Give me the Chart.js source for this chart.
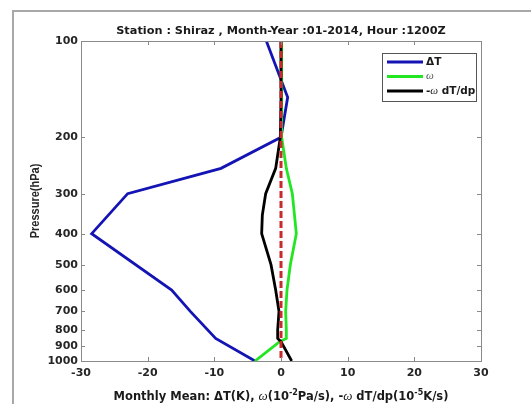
<!DOCTYPE html>
<html>
<head>
<meta charset="utf-8">
<script src="https://cdn.jsdelivr.net/npm/chart.js@4.4.1/dist/chart.umd.min.js"></script>
<style>
  html, body { margin: 0; padding: 0; background: #fff; overflow: hidden; }
</style>
</head>
<body>
<canvas id="profile" width="531" height="404"></canvas>
<script>
// Pressure levels (hPa) shared by the profiles; null = no vertex at that level
const levels = [100, 150, 200, 250, 300, 350, 400, 500, 600, 700, 800, 850, 870, 925, 1000];
const deltaT = [-2.2, 1.0, 0.0, -9.0, -23.0, null, -28.4, null, -16.4, -13.6, null, -9.8, null, null, -3.9];
const omega = [0.0, 0.1, 0.1, 0.8, 1.7, null, 2.3, 1.4, 0.9, 0.7, 0.8, 0.8, -0.2, null, -3.9];
const advection = [0.0, 0.0, -0.1, -0.8, -2.3, -2.8, -2.9, -1.5, -0.8, -0.3, -0.5, -0.5, 0.0, null, 1.6];

// reference line at zero
const zeroValues = [0, 0];
const zeroLevels = [100, 1000];

const xTicks = [-30, -20, -10, 0, 10, 20, 30];
const yTicks = [100, 200, 300, 400, 500, 600, 700, 800, 900, 1000];

const titleText = 'Station : Shiraz , Month-Year :01-2014, Hour :1200Z';
const yTitle = 'Pressure(hPa)';

const BOLD = '"DejaVu Sans", sans-serif';
const TXT = '#262626';

function toPoints(values, p) {
  return values
    .map((v, i) => ({ x: v, y: p[i] }))
    .filter(d => d.x !== null);
}

// draw a run of mixed-font segments centred on cx
function drawRuns(ctx, runs, cx, cy) {
  const widths = runs.map(r => { ctx.font = r.font; return ctx.measureText(r.t).width; });
  let x = cx - widths.reduce((s, w) => s + w, 0) / 2;
  runs.forEach((r, i) => {
    ctx.font = r.font;
    ctx.fillText(r.t, x, cy + (r.dy || 0));
    x += widths[i];
  });
}

const sansB = s => `bold ${s}px ${BOLD}`;
const greek = s => `italic ${s}px "Liberation Serif", serif`;

const texts = {
  id: 'texts',
  beforeDraw(chart) {
    const { ctx } = chart;
    ctx.save();
    ctx.fillStyle = '#fff';
    ctx.fillRect(0, 0, chart.width, chart.height);
    ctx.strokeStyle = '#a8a8a8';
    ctx.lineWidth = 2;
    ctx.strokeRect(13, 11, 700, 600);
    ctx.restore();
  },
  afterDraw(chart) {
    const { ctx, chartArea: a } = chart;
    const cx = (a.left + a.right) / 2;
    ctx.save();
    ctx.fillStyle = '#1a1a1a';
    ctx.textBaseline = 'middle';
    drawRuns(ctx, [{ t: titleText, font: sansB(11.3) }], cx, 31);

    drawRuns(ctx, [
      { t: 'Monthly Mean: ΔT(K), ', font: sansB(11.5) },
      { t: 'ω', font: greek(13) },
      { t: '(10', font: sansB(11.5) },
      { t: '-2', font: sansB(8), dy: -4 },
      { t: 'Pa/s), -', font: sansB(11.5) },
      { t: 'ω', font: greek(13) },
      { t: ' dT/dp(10', font: sansB(11.5) },
      { t: '-5', font: sansB(8), dy: -4 },
      { t: 'K/s)', font: sansB(11.5) }
    ], cx, 397);

    // y axis title, widened like the rest of the figure's text
    ctx.fillStyle = TXT;
    ctx.translate(35, (a.top + a.bottom) / 2);
    ctx.scale(1.2, 1);
    ctx.rotate(-Math.PI / 2);
    ctx.textAlign = 'center';
    ctx.font = 'bold 11px "Liberation Sans", Arial, sans-serif';
    ctx.fillText(yTitle, 0, 0);
    ctx.restore();
  }
};

const axesBox = {
  id: 'axesBox',
  afterDatasetsDraw(chart) {
    const { ctx, chartArea: a, scales: { x, y } } = chart;
    ctx.save();
    ctx.strokeStyle = '#8a8a8a';
    ctx.lineWidth = 1;
    ctx.beginPath();
    xTicks.forEach(v => {
      const px = Math.round(x.getPixelForValue(v)) + 0.5;
      ctx.moveTo(px, a.bottom); ctx.lineTo(px, a.bottom - 4);
      ctx.moveTo(px, a.top); ctx.lineTo(px, a.top + 4);
    });
    yTicks.forEach(v => {
      const py = Math.round(y.getPixelForValue(v)) + 0.5;
      ctx.moveTo(a.left, py); ctx.lineTo(a.left + 4, py);
      ctx.moveTo(a.right, py); ctx.lineTo(a.right - 4, py);
    });
    ctx.stroke();
    ctx.strokeRect(a.left + 0.5, a.top + 0.5, a.right - a.left, a.bottom - a.top);

    // legend
    const lx = 382.5, ly = 53.5, lw = 94, lh = 48;
    ctx.fillStyle = '#fff';
    ctx.fillRect(lx, ly, lw, lh);
    ctx.strokeStyle = '#555';
    ctx.strokeRect(lx, ly, lw, lh);
    const rows = [
      [{ t: 'ΔT', font: sansB(10.5) }],
      [{ t: 'ω', font: greek(11), color: '#555' }],
      [{ t: '-', font: sansB(10.5) }, { t: 'ω', font: greek(11) }, { t: ' dT/dp', font: sansB(10.5) }]
    ];
    const items = chart.data.datasets.filter(d => d.legend);
    ctx.textBaseline = 'middle';
    items.forEach((d, i) => {
      const ry = 62 + i * 14.5;
      ctx.strokeStyle = d.borderColor;
      ctx.lineWidth = 3;
      ctx.beginPath();
      ctx.moveTo(387, ry); ctx.lineTo(423, ry);
      ctx.stroke();
      let tx = 426;
      rows[i].forEach(r => {
        ctx.font = r.font;
        ctx.fillStyle = r.color || '#1a1a1a';
        ctx.fillText(r.t, tx, ry);
        tx += ctx.measureText(r.t).width;
      });
    });
    ctx.restore();
  }
};

const line = {
  showLine: true,
  pointRadius: 0,
  borderWidth: 2.8,
  fill: false,
  tension: 0
};

new Chart(document.getElementById('profile'), {
  type: 'scatter',
  data: {
    datasets: [
      { ...line, data: toPoints(zeroValues, zeroLevels), borderColor: '#c62a2a', borderWidth: 3, borderDash: [7, 3], order: 0 },
      { ...line, legend: true, label: 'ΔT', data: toPoints(deltaT, levels), borderColor: '#1414b4', order: 3 },
      { ...line, legend: true, label: 'ω', data: toPoints(omega, levels), borderColor: '#22e622', order: 2 },
      { ...line, legend: true, label: '-ω dT/dp', data: toPoints(advection, levels), borderColor: '#000000', order: 1 }
    ]
  },
  options: {
    responsive: false,
    animation: false,
    devicePixelRatio: 1,
    layout: { padding: { top: 41, right: 50, left: 0, bottom: 0 } },
    plugins: {
      legend: { display: false },
      title: { display: false },
      tooltip: { enabled: false }
    },
    scales: {
      x: {
        type: 'linear',
        min: -30,
        max: 30,
        afterBuildTicks: s => { s.ticks = xTicks.map(v => ({ value: v })); },
        afterFit: s => { s.height = 43; },
        grid: { display: false, drawTicks: false },
        border: { display: false },
        ticks: { color: TXT, padding: 6, autoSkip: false, maxRotation: 0, font: { family: BOLD, weight: 'bold', size: 11 } }
      },
      y: {
        type: 'logarithmic',
        min: 100,
        max: 1000,
        reverse: true,
        afterBuildTicks: s => { s.ticks = yTicks.map(v => ({ value: v })); },
        afterFit: s => { s.width = 81; },
        grid: { display: false, drawTicks: false },
        border: { display: false },
        ticks: { color: TXT, padding: 3, autoSkip: false, callback: v => String(v), font: { family: BOLD, weight: 'bold', size: 11 } }
      }
    }
  },
  plugins: [texts, axesBox]
});
</script>
</body>
</html>
